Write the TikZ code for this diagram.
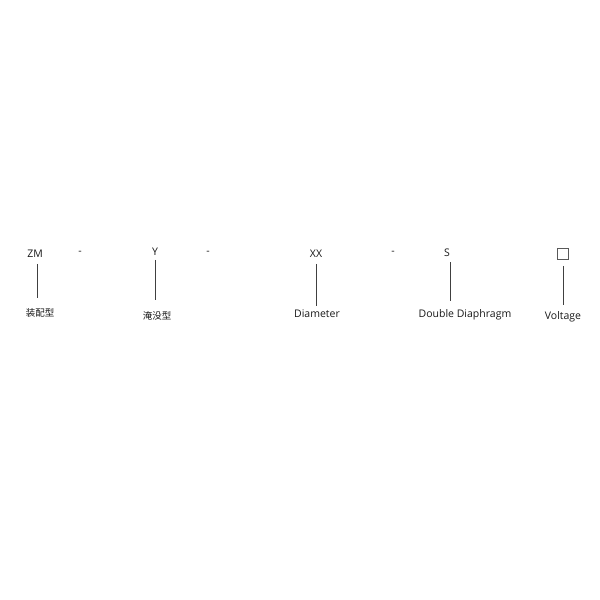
\documentclass[tikz,border=0pt]{standalone}
\usepackage{fontspec}
\setmainfont{Open Sans}
\newfontfamily\cjk{Noto Sans CJK SC}
\usetikzlibrary{positioning}

\begin{document}
\begin{tikzpicture}[x=1pt, y=-1pt,
    code/.style={font=\fontsize{10.5}{12}\selectfont, inner sep=0pt, text=black!90},
    label/.style={font=\fontsize{10.5}{12}\selectfont, inner sep=0pt, text=black!90},
    link/.style={draw=black!75, line width=0.8pt}]
      \useasboundingbox (0,0) rectangle (600,600);

      % --- Model code ---
      \node[code] (zm) at (35,254) {ZM};
      \node[code] (d1) at (80,253) {-};
      \node[code] (y) at (155,252) {Y};
      \node[code] (d2) at (208,253) {-};
      \node[code] (xx) at (316,254) {XX};
      \node[code] (d3) at (393,253) {-};
      \node[code] (s) at (447,253) {S};
      \node[draw=black!65, line width=0.6pt, minimum size=11pt, inner sep=0pt] (volt) at (563,254) {};

      % --- Meanings ---
      \node[label] (zmlab) at (40,313) {\cjk\fontsize{9.5}{11}\selectfont 装配型};
      \node[label] (ylab) at (157,316) {\cjk\fontsize{9.5}{11}\selectfont 淹没型};
      \node[label] (xxlab) at (317,314) {Diameter};
      \node[label] (slab) at (465,315) {Double Diaphragm};
      \node[label] (voltlab) at (563,317) {Voltage};

      % --- Leader lines ---
      \draw[link, shorten <=6pt, shorten >=10pt] (zm.south -| 37,0) -- (zmlab.north -| 37,0);
      \draw[link, shorten <=4pt, shorten >=11pt] (y.south) -- (ylab.north -| y.south);
      \draw[link, shorten <=6pt, shorten >=4pt] (xx.south) -- (xxlab.north -| xx.south);
      \draw[link, shorten <=5pt, shorten >=9pt] (s.south -| 450,0) -- (slab.north -| 450,0);
      \draw[link, shorten <=6pt, shorten >=7pt] (volt.south) -- (voltlab.north);
\end{tikzpicture}
\end{document}
